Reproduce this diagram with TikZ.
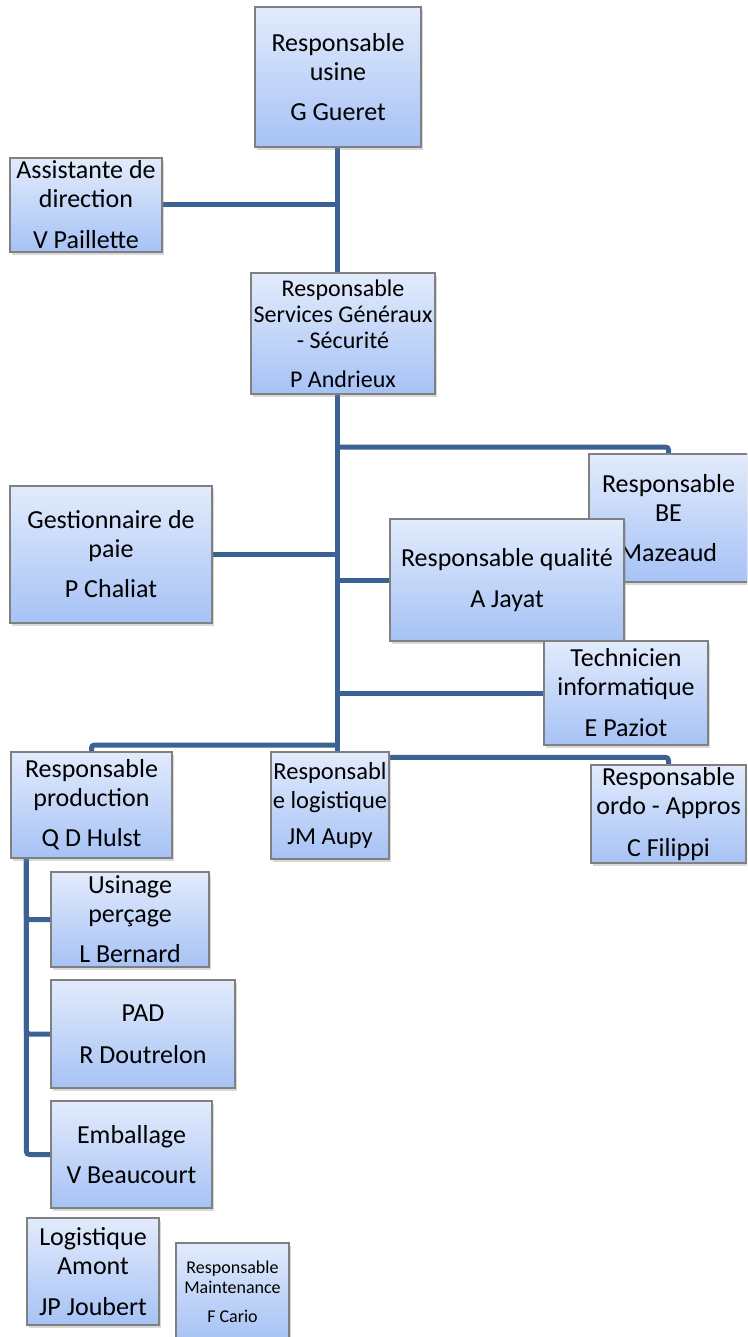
\documentclass[tikz,border=0pt]{standalone}
\usepackage{fontspec}
\setmainfont{Carlito}
\usetikzlibrary{shadows}
\definecolor{conncol}{HTML}{3C6293}
\definecolor{boxtop}{HTML}{E2EBFC}
\definecolor{boxbot}{HTML}{A6C2F5}
\definecolor{boxline}{HTML}{808080}
\pgfdeclarelayer{background}
\pgfsetlayers{background,main}
\tikzset{
  orgbox/.style={rectangle, draw=boxline, line width=1.2pt, top color=boxtop, bottom color=boxbot,
    inner sep=0pt, align=center, font=\fontsize{26}{29}\selectfont,
    drop shadow={opacity=0.3, shadow xshift=2pt, shadow yshift=-3pt}},
  conn/.style={draw=conncol, line width=5pt, rounded corners=3pt},
}
\begin{document}
\begin{tikzpicture}[x=1pt, y=-1pt]
\useasboundingbox (0,0) rectangle (747,1337);
\clip (0,0) rectangle (747,1337);
% boxes
\node[orgbox, minimum width=166pt, minimum height=140pt] (usine) at (338,77) {Responsable\\usine\\[11pt]G Gueret};
\node[orgbox, minimum width=152pt, minimum height=94pt] (assist) at (86,205) {Assistante de\\direction\\[12pt]V Paillette};
\node[orgbox, minimum width=184pt, minimum height=121pt, font=\fontsize{24}{26}\selectfont] (services) at (343,333.5) {Responsable\\Services Généraux\\- Sécurité\\[13pt]P Andrieux};
\node[orgbox, minimum width=159pt, minimum height=128pt] (be) at (668.5,518) {Responsable\\BE\\[11pt]Mazeaud};
\node[orgbox, minimum width=234pt, minimum height=122pt] (qual) at (507,580) {Responsable qualité\\[12pt]A Jayat};
\node[orgbox, minimum width=164pt, minimum height=104pt] (tech) at (626,693) {Technicien\\informatique\\[12pt]E Paziot};
\node[orgbox, minimum width=202pt, minimum height=137pt] (gest) at (111,554.5) {Gestionnaire de\\paie\\[11pt]P Chaliat};
\node[orgbox, minimum width=161pt, minimum height=106pt] (prod) at (91.5,805) {Responsable\\production\\[11pt]Q D Hulst};
\node[orgbox, minimum width=118pt, minimum height=107pt, font=\fontsize{24.5}{29}\selectfont] (logi) at (330,805.5) {Responsabl\\e logistique\\[7pt]JM Aupy};
\node[orgbox, minimum width=155pt, minimum height=98pt] (ordo) at (668.5,814) {Responsable\\ordo - Appros\\[13pt]C Filippi};
\node[orgbox, minimum width=158pt, minimum height=95pt] (usin) at (130,919.5) {Usinage\\perçage\\[11pt]L Bernard};
\node[orgbox, minimum width=184pt, minimum height=108pt] (pad) at (143,1034) {PAD\\[13pt]R Doutrelon};
\node[orgbox, minimum width=161pt, minimum height=107pt] (emb) at (131.5,1154.5) {Emballage\\[11pt]V Beaucourt};
\node[orgbox, minimum width=132pt, minimum height=107pt] (lamont) at (93,1271.5) {Logistique\\Amont\\[12pt]JP Joubert};
\node[orgbox, minimum width=113pt, minimum height=97pt, font=\fontsize{18}{20}\selectfont] (maint) at (232.5,1291.5) {Responsable\\Maintenance\\[9pt]F Cario};
% junctions
\coordinate (jBE) at (337,447);
\coordinate (jProd) at (337,745);
\coordinate (jSub) at ([xshift=16pt]prod.south west);
% connectors
\begin{pgfonlayer}{background}
\draw[conn] (usine.south -| jBE) -- (jBE |- logi.north);
\draw[conn] (assist.east) -- (assist.east -| jBE);
\draw[conn] (jBE) -| (be.north);
\draw[conn] (gest.east) -- (gest.east -| jBE);
\draw[conn] (qual.west) -- (qual.west -| jBE);
\draw[conn] (tech.west) -- (tech.west -| jBE);
\draw[conn] (jProd) -| (prod.north);
\draw[conn] ([yshift=-6pt]logi.north east) -| (ordo.north);
\draw[conn] (jSub) |- (usin.west);
\draw[conn] (jSub) |- (pad.west);
\draw[conn] (jSub) |- (emb.west);
\end{pgfonlayer}
\end{tikzpicture}
\end{document}
